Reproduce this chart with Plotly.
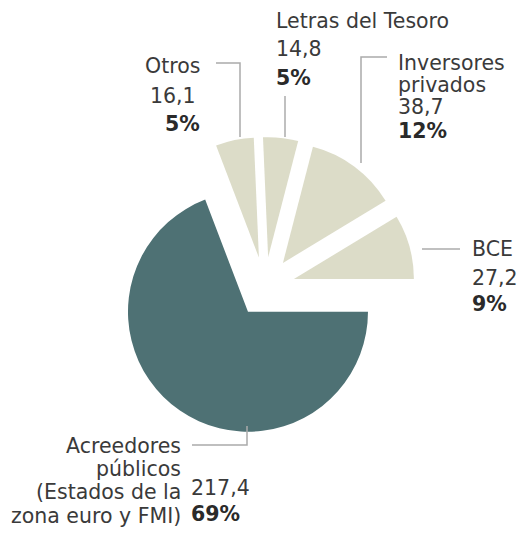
import plotly.graph_objects as go

# Greek debt holders (billion EUR), clockwise from 3 o'clock
labels = ["Acreedores públicos", "Otros", "Letras del Tesoro", "Inversores privados", "BCE"]
values = [217.4, 16.1, 14.8, 38.7, 27.2]
value_text = ["217,4", "16,1", "14,8", "38,7", "27,2"]
pct_text = ["69%", "5%", "5%", "12%", "9%"]

W, H = 520, 533
DARK = "#4e7174"
LIGHT = "#dcdcc8"
TEXT = "#3a3a3a"
LINE = "#ababab"
FONT = "DejaVu Sans"
FS = 20.5

# pie geometry in pixels: centre, radius and pull fraction
cx, cy, r, pull = 265, 287, 120, 0.25
half = r * (1 + pull)

fig = go.Figure(go.Pie(
    labels=labels,
    values=values,
    sort=False,
    direction="clockwise",
    rotation=90,
    pull=[pull] * len(values),
    marker=dict(colors=[DARK] + [LIGHT] * 4, line=dict(width=0)),
    textinfo="none",
    hoverinfo="label+value+percent",
    showlegend=False,
    domain=dict(x=[(cx - half) / W, (cx + half) / W],
                y=[1 - (cy + half) / H, 1 - (cy - half) / H]),
))


def px(x):
    return x / W


def py(y):
    return 1 - y / H


def label(text, x, y, anchor, bold=False):
    fig.add_annotation(
        text=f"<b>{text}</b>" if bold else text,
        x=px(x), y=py(y), xref="paper", yref="paper",
        xanchor=anchor, yanchor="middle", showarrow=False,
        font=dict(family=FONT, size=FS, color="#2a2a2a" if bold else TEXT),
    )


def leader(points):
    path = "M " + " L ".join(f"{px(x)},{py(y)}" for x, y in points)
    fig.add_shape(type="path", path=path, xref="paper", yref="paper",
                  line=dict(color=LINE, width=1.5))


# Acreedores públicos
for txt, y in zip(["Acreedores", "públicos", "(Estados de la", "zona euro y FMI)"],
                  [446, 469, 492, 516]):
    label(txt, 183, y, "right")
label(value_text[0], 189, 488, "left")
label(pct_text[0], 189, 514, "left", bold=True)
leader([(247, 426), (247, 445), (192, 445)])

# Otros
label("Otros", 202, 66, "right")
label(value_text[1], 198, 96, "right")
label(pct_text[1], 202, 124, "right", bold=True)
leader([(216, 63), (240, 63), (240, 137)])

# Letras del Tesoro
label("Letras del Tesoro", 274, 21, "left")
label(value_text[2], 274, 49, "left")
label(pct_text[2], 274, 78, "left", bold=True)
leader([(285, 96), (285, 137)])

# Inversores privados
label("Inversores", 396, 63, "left")
label("privados", 396, 85, "left")
label(value_text[3], 396, 107, "left")
label(pct_text[3], 396, 131, "left", bold=True)
leader([(387, 57), (361, 57), (361, 163)])

# BCE
label("BCE", 470, 249, "left")
label(value_text[4], 470, 278, "left")
label(pct_text[4], 470, 304, "left", bold=True)
leader([(422, 249), (460, 249)])

fig.update_layout(
    width=W, height=H,
    margin=dict(l=0, r=0, t=0, b=0),
    paper_bgcolor="white",
    plot_bgcolor="white",
)

fig.write_html("out.html")
